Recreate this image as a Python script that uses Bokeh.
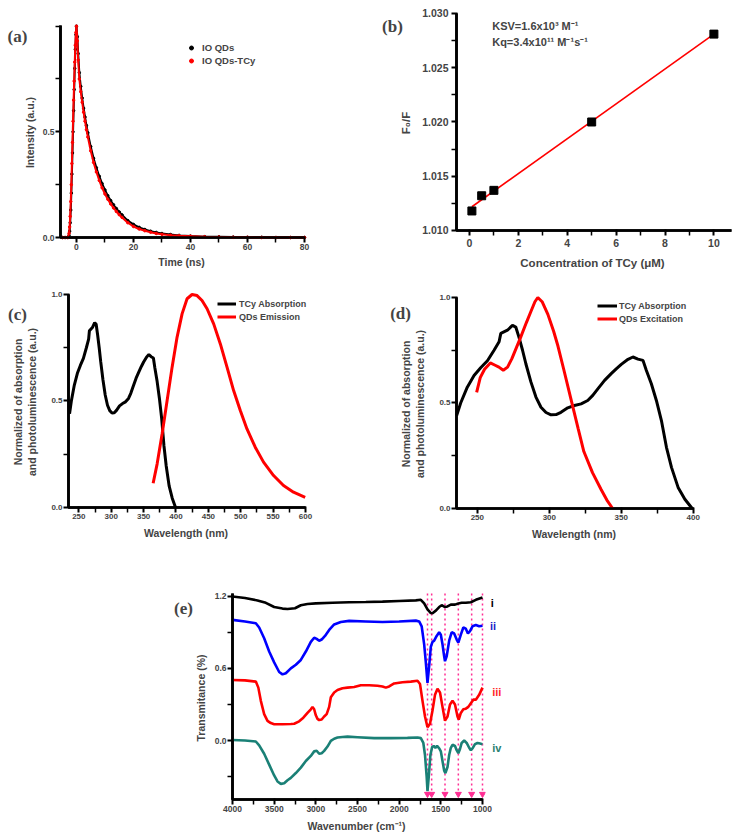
import numpy as np
from bokeh.plotting import figure
from bokeh.models import (Range1d, FixedTicker, NumeralTickFormatter, Label,
                          Legend, LegendItem, Arrow)
from bokeh.layouts import column, row
from bokeh.embed import file_html
from bokeh.resources import INLINE

# ---------------- (a) fluorescence decay ----------------
time_ns = [-5, -4, -3, -2.6, -2.4, -2.2, -2.0, -1.8, -1.6, -1.4, -1.2, -1.0, -0.8,
           -0.6, -0.4, -0.2, 0, 0.3, 0.6, 1, 1.5, 2, 2.5, 3, 3.5, 4, 5, 6, 7, 8, 9,
           10, 11, 12, 13, 14, 15, 16, 18, 20, 22, 24, 26, 28, 30, 33, 36, 40, 45,
           50, 55, 60, 65, 70, 75, 80]
io_qds = [0, 0, 0, 0.01, 0.03, 0.07, 0.13, 0.21, 0.30, 0.40, 0.50, 0.60, 0.70,
          0.80, 0.89, 0.96, 1.0, 0.95, 0.87, 0.78, 0.715, 0.66, 0.612, 0.57, 0.53,
          0.495, 0.43, 0.375, 0.33, 0.29, 0.255, 0.225, 0.198, 0.175, 0.155, 0.137,
          0.121, 0.107, 0.080, 0.062, 0.048, 0.038, 0.030, 0.024, 0.019, 0.014,
          0.010, 0.007, 0.004, 0.003, 0.002, 0.001, 0.001, 0, 0, 0]
io_qds_tcy = [0, 0, 0, 0.02, 0.05, 0.10, 0.17, 0.25, 0.35, 0.45, 0.55, 0.65, 0.74,
              0.83, 0.91, 0.97, 1.0, 0.93, 0.84, 0.75, 0.69, 0.64, 0.593, 0.55,
              0.51, 0.475, 0.41, 0.355, 0.31, 0.27, 0.235, 0.206, 0.181, 0.159,
              0.14, 0.123, 0.108, 0.095, 0.070, 0.052, 0.040, 0.032, 0.025, 0.019,
              0.015, 0.011, 0.008, 0.006, 0.003, 0.002, 0.001, 0.001, 0, 0, 0, 0]

# ---------------- (b) Stern-Volmer ----------------
conc_tcy = [0.1, 0.5, 1, 5, 10]
f0_over_f = [1.0118, 1.0132, 1.0137, 1.0200, 1.0281]

# ---------------- (c)/(d) spectra ----------------
tcy_wl = [235.6, 238.4, 243, 247.7, 252.3, 257, 261.6, 265.1, 266.3, 270.9, 274.4,
          276.7, 279, 281.4, 283.7, 287.2, 290.7, 294.2, 297.7, 301.2, 304.7,
          308.1, 312.8, 317.4, 322.1, 326.7, 330.2, 333.7, 338.4, 343, 346.5, 350,
          354.7, 358.1, 361.6, 365.1, 367.4, 370.9, 374.4, 377.9, 381.4, 384.9,
          389.5, 394.2, 399.3]
tcy_abs = [0.44, 0.50, 0.575, 0.63, 0.667, 0.70, 0.75, 0.79, 0.83, 0.845, 0.868,
           0.86, 0.81, 0.75, 0.686, 0.60, 0.528, 0.48, 0.455, 0.444, 0.445, 0.456,
           0.477, 0.488, 0.496, 0.512, 0.536, 0.567, 0.607, 0.639, 0.662, 0.683,
           0.707, 0.718, 0.708, 0.702, 0.655, 0.591, 0.512, 0.417, 0.29, 0.195,
           0.10, 0.044, 0.0]
em_wl = [364.7, 370.9, 378.6, 386.3, 394, 401.7, 409.4, 417.1, 424.8, 432.5, 440.2,
         448, 458.2, 468.5, 478.8, 489, 499.3, 509.6, 522.4, 535.2, 550.7, 566,
         581.5, 599.5]
qds_emission = [0.114, 0.205, 0.346, 0.502, 0.659, 0.80, 0.909, 0.98, 1.0, 0.995,
                0.972, 0.933, 0.862, 0.768, 0.659, 0.549, 0.455, 0.369, 0.283,
                0.213, 0.150, 0.103, 0.072, 0.048]
ex_wl = [249.5, 252, 255, 259, 262, 265, 268, 271, 274, 277, 280, 284, 287, 290,
         292, 295, 299, 303, 306, 310, 315, 320, 324, 330, 336, 340, 344]
qds_excitation = [0.55, 0.62, 0.66, 0.69, 0.68, 0.67, 0.655, 0.67, 0.71, 0.76,
                  0.81, 0.88, 0.93, 0.98, 1.0, 0.98, 0.92, 0.84, 0.77, 0.66, 0.52,
                  0.38, 0.27, 0.17, 0.09, 0.04, 0.0]

# ---------------- (e) FTIR ----------------
wn_i = [4000, 3850, 3700, 3600, 3500, 3400, 3340, 3250, 3180, 3100, 3000, 2800,
        2600, 2400, 2200, 2000, 1800, 1740, 1700, 1660, 1620, 1600, 1560, 1520,
        1490, 1450, 1420, 1380, 1330, 1290, 1250, 1200, 1140, 1080, 1000]
ftir_i = [1.197, 1.185, 1.165, 1.145, 1.11, 1.097, 1.093, 1.10, 1.125, 1.135, 1.14,
          1.145, 1.15, 1.152, 1.155, 1.16, 1.165, 1.17, 1.14, 1.09, 1.06, 1.058,
          1.08, 1.11, 1.125, 1.11, 1.115, 1.13, 1.13, 1.14, 1.145, 1.145, 1.15,
          1.17, 1.19]
wn_ii = [4000, 3850, 3720, 3680, 3620, 3560, 3500, 3440, 3400, 3360, 3300, 3240,
         3180, 3120, 3060, 3020, 2990, 2960, 2930, 2890, 2840, 2780, 2700, 2600,
         2400, 2200, 2000, 1800, 1760, 1730, 1700, 1680, 1660, 1640, 1620, 1600,
         1580, 1550, 1520, 1500, 1480, 1460, 1450, 1430, 1400, 1370, 1340, 1310,
         1290, 1260, 1230, 1200, 1175, 1150, 1120, 1080, 1040, 1000]
ftir_ii = [1.003, 0.99, 0.975, 0.94, 0.85, 0.74, 0.65, 0.57, 0.55, 0.56, 0.60, 0.63,
           0.67, 0.74, 0.82, 0.855, 0.845, 0.83, 0.84, 0.87, 0.92, 0.965, 0.985,
           0.995, 0.99, 0.985, 0.99, 0.997, 0.99, 0.95, 0.80, 0.65, 0.48, 0.62,
           0.78, 0.82, 0.83, 0.87, 0.90, 0.88, 0.80, 0.70, 0.66, 0.70, 0.83, 0.90,
           0.89, 0.84, 0.815, 0.88, 0.94, 0.93, 0.89, 0.91, 0.95, 0.96, 0.95, 0.955]
wn_iii = [4000, 3850, 3720, 3690, 3660, 3620, 3580, 3540, 3500, 3400, 3300, 3260,
          3200, 3150, 3100, 3060, 3040, 3020, 3000, 2980, 2960, 2930, 2900, 2870,
          2840, 2820, 2780, 2740, 2680, 2620, 2540, 2460, 2360, 2260, 2200, 2160,
          2120, 2060, 1960, 1860, 1780, 1750, 1720, 1690, 1660, 1630, 1600, 1570,
          1540, 1510, 1480, 1450, 1420, 1390, 1360, 1330, 1300, 1285, 1260, 1230,
          1200, 1170, 1140, 1110, 1080, 1040, 1000]
ftir_iii = [0.503, 0.50, 0.49, 0.44, 0.33, 0.22, 0.164, 0.145, 0.136, 0.135, 0.138,
            0.14, 0.16, 0.19, 0.23, 0.26, 0.28, 0.26, 0.21, 0.18, 0.17, 0.175, 0.20,
            0.22, 0.28, 0.36, 0.40, 0.42, 0.435, 0.44, 0.445, 0.46, 0.46, 0.456,
            0.45, 0.44, 0.45, 0.475, 0.485, 0.49, 0.497, 0.47, 0.33, 0.20, 0.11,
            0.14, 0.25, 0.38, 0.43, 0.40, 0.28, 0.165, 0.20, 0.30, 0.33, 0.30, 0.20,
            0.175, 0.23, 0.26, 0.265, 0.28, 0.31, 0.34, 0.34, 0.38, 0.44]
wn_iv = [4000, 3850, 3720, 3680, 3620, 3560, 3500, 3460, 3420, 3380, 3340, 3300,
         3240, 3180, 3120, 3060, 3020, 2990, 2960, 2930, 2900, 2860, 2820, 2780,
         2740, 2680, 2620, 2500, 2300, 2100, 1900, 1780, 1740, 1710, 1690, 1670,
         1660, 1645, 1625, 1605, 1585, 1565, 1545, 1520, 1500, 1480, 1460, 1445,
         1420, 1400, 1380, 1360, 1330, 1310, 1290, 1270, 1250, 1220, 1190, 1160,
         1140, 1120, 1090, 1060, 1030, 1000]
ftir_iv = [0.005, 0.0, -0.008, -0.04, -0.11, -0.20, -0.29, -0.34, -0.36, -0.355,
           -0.33, -0.31, -0.27, -0.225, -0.17, -0.128, -0.09, -0.085, -0.11, -0.105,
           -0.086, -0.05, -0.003, 0.015, 0.025, 0.03, 0.033, 0.028, 0.02, 0.02,
           0.022, 0.025, 0.02, -0.02, -0.12, -0.30, -0.42, -0.30, -0.12, -0.055,
           -0.045, -0.06, -0.045, -0.064, -0.09, -0.17, -0.25, -0.27, -0.22, -0.12,
           -0.06, -0.035, -0.045, -0.08, -0.105, -0.07, -0.02, 0.0, -0.02, -0.06,
           -0.08, -0.065, -0.03, -0.02, -0.025, -0.03]
ftir_marks = [1660, 1610, 1450, 1290, 1130, 1000]
ftir_names = ["i", "ii", "iii", "iv"]

FONT = "Liberation Sans"
TEAL = "#1a8076"
MAGENTA = "#ff2e93"


def style(p, tick_size, label_size, x_std=(1, 3), y_std=(1, 4)):
    p.outline_line_color = None
    p.grid.visible = False
    for ax, (tick_sd, label_sd) in [(p.xaxis[0], x_std), (p.yaxis[0], y_std)]:
        ax.axis_line_color = None
        ax.major_tick_line_width = 2
        ax.minor_tick_line_width = 1.5
        # rules sit 5px inside the frame; ticks run from frame edge to rule
        ax.major_tick_out = 0
        ax.major_tick_in = 6
        ax.minor_tick_out = 0
        ax.minor_tick_in = 5
        ax.major_label_text_font = FONT
        ax.major_label_text_font_style = "bold"
        ax.major_label_text_font_size = tick_size
        ax.axis_label_text_font = FONT
        ax.axis_label_text_font_style = "bold"
        ax.axis_label_text_font_size = label_size
        ax.major_label_standoff = tick_sd
        ax.axis_label_standoff = label_sd


def axis_rules(p, x_left, x_right, y_base, y_top):
    # left + bottom axis rules, strictly inside the frame, drawn through the
    # plot's own scales (line glyph plus plain arrow annotations)
    n = 30
    xs = [x_left] * n + list(np.linspace(x_left, x_right, n))
    ys = list(np.linspace(y_top, y_base, n)) + [y_base] * n
    p.line(xs, ys, line_color="black", line_width=2.6)
    for xs0, ys0, xs1, ys1 in [(x_left, y_top, x_left, y_base),
                               (x_left, y_base, x_right, y_base)]:
        p.add_layout(Arrow(x_start=xs0, y_start=ys0, x_end=xs1, y_end=ys1,
                           start=None, end=None, line_color="black",
                           line_width=2.6))


def panel_label(p, x, y, text, side):
    p.add_layout(Label(x=x, y=y, text=text, text_font="Liberation Serif",
                       text_font_style="bold", text_font_size="17px",
                       text_align="center", text_baseline="middle"), side)


def make_legend(items, loc, gw, gh, standoff, fsize):
    return Legend(items=items, location=loc, orientation="vertical",
                  border_line_color=None, background_fill_alpha=0,
                  padding=0, spacing=0, margin=0, glyph_width=gw,
                  glyph_height=gh, label_height=gh, label_standoff=standoff,
                  label_text_font=FONT, label_text_font_style="bold",
                  label_text_font_size=fsize)


common = dict(output_backend="svg", toolbar_location=None, title_location=None)

# ---------- panel (a) ----------
pa = figure(width=370, height=280, x_range=Range1d(-7.354, 81.053),
            y_range=Range1d(-0.02365, 1.01719),
            min_border_left=55, min_border_right=63, min_border_top=22,
            min_border_bottom=38, **common)
axis_rules(pa, -5.6, 80, 0, 1.003)
pa.line(time_ns, io_qds, color="black", line_width=2)
sa_k = pa.scatter(time_ns, io_qds, color="black", size=2.5)
pa.line(time_ns, io_qds_tcy, color="red", line_width=2)
sa_r = pa.scatter(time_ns, io_qds_tcy, color="red", size=2.5)
style(pa, "8.5px", "10.5px", x_std=(1, 3), y_std=(1, 4))
pa.xaxis.axis_label = "Time (ns)"
pa.yaxis.axis_label = "Intensity (a.u.)"
pa.xaxis.ticker = FixedTicker(ticks=[0, 20, 40, 60, 80], minor_ticks=[10, 30, 50, 70])
pa.yaxis.ticker = FixedTicker(ticks=[0, 0.5], minor_ticks=[0.25, 0.75, 1.0])
pa.yaxis.formatter = NumeralTickFormatter(format="0.0")
pa.add_layout(make_legend([LegendItem(label="IO QDs", renderers=[sa_k]),
                           LegendItem(label="IO QDs-TCy", renderers=[sa_r])],
                          (131, 175), 10, 13, 6, "9.5px"))
panel_label(pa, -20.7, 0.951, "(a)", "right")

# ---------- panel (b) ----------
pb = figure(width=364, height=280, x_range=Range1d(-0.7346, 10.802),
            y_range=Range1d(1.009539, 1.030276),
            min_border_left=81, min_border_right=1, min_border_top=10,
            min_border_bottom=45, **common)
axis_rules(pb, -0.53, 10.72, 1.010, 1.030)
coef = np.polyfit(conc_tcy, f0_over_f, 1)
fit_x = [min(conc_tcy), max(conc_tcy)]
fit_y = [coef[0] * v + coef[1] for v in fit_x]
pb.line(fit_x, fit_y, color="red", line_width=1.6)
pb.scatter(conc_tcy, f0_over_f, marker="square", size=8, color="black")
style(pb, "10.5px", "11.5px", x_std=(3, 7), y_std=(3, 7))
pb.xaxis.axis_label = "Concentration of TCy (μM)"
pb.yaxis.axis_label = "F₀/F"
pb.xaxis.ticker = FixedTicker(ticks=[0, 2, 4, 6, 8, 10], minor_ticks=[1, 3, 5, 7, 9])
pb.yaxis.ticker = FixedTicker(ticks=[1.010, 1.015, 1.020, 1.025, 1.030],
                              minor_ticks=[1.0125, 1.0175, 1.0225, 1.0275])
pb.yaxis.formatter = NumeralTickFormatter(format="0.000")
for yy, txt in [(1.02889, "KSV=1.6x10³ M⁻¹"), (1.02736, "Kq=3.4x10¹¹ M⁻¹s⁻¹")]:
    pb.add_layout(Label(x=0.93, y=yy, text=txt, text_font=FONT,
                        text_font_style="bold", text_font_size="11px",
                        text_align="left", text_baseline="middle"))
panel_label(pb, -3.15, 1.0288, "(b)", "left")

# ---------- panel (c) ----------
pc = figure(width=370, height=310, x_range=Range1d(226.28, 604.63),
            y_range=Range1d(-0.02347, 1.01408),
            min_border_left=63, min_border_right=62, min_border_top=11,
            min_border_bottom=78, **common)
axis_rules(pc, 234, 600, 0, 1.0)
rc_k = pc.line(tcy_wl, tcy_abs, color="black", line_width=3)
rc_r = pc.line(em_wl, qds_emission, color="red", line_width=3)
style(pc, "8px", "10.5px", x_std=(1, 5), y_std=(1, 10))
pc.xaxis.axis_label = "Wavelength (nm)"
pc.yaxis.axis_label = "Normalized of absorption\nand photoluminescence (a.u.)"
pc.xaxis.ticker = FixedTicker(ticks=list(range(250, 601, 50)),
                              minor_ticks=list(range(275, 600, 50)))
pc.yaxis.ticker = FixedTicker(ticks=[0, 0.5, 1.0], minor_ticks=[0.25, 0.75])
pc.yaxis.formatter = NumeralTickFormatter(format="0.0")
pc.add_layout(make_legend([LegendItem(label="TCy Absorption", renderers=[rc_k]),
                           LegendItem(label="QDs Emission", renderers=[rc_r])],
                          (154, 189), 19, 13, 3, "9px"))
panel_label(pc, 155.2, 0.906, "(c)", "right")

# ---------- panel (d) ----------
pd = figure(width=364, height=310, x_range=Range1d(232.03, 402.28),
            y_range=Range1d(-0.0237, 1.01422),
            min_border_left=81, min_border_right=38, min_border_top=14,
            min_border_bottom=77, **common)
axis_rules(pd, 235.5, 400.2, 0, 1.0)
rd_k = pd.line(tcy_wl, tcy_abs, color="black", line_width=3)
rd_r = pd.line(ex_wl, qds_excitation, color="red", line_width=3)
style(pd, "8px", "10.5px", x_std=(1, 5), y_std=(1, 10))
pd.xaxis.axis_label = "Wavelength (nm)"
pd.yaxis.axis_label = "Normalized of absorption\nand photoluminescence (a.u.)"
pd.xaxis.ticker = FixedTicker(ticks=[250, 300, 350, 400], minor_ticks=[275, 325, 375])
pd.yaxis.ticker = FixedTicker(ticks=[0, 0.5, 1.0], minor_ticks=[0.25, 0.75])
pd.yaxis.formatter = NumeralTickFormatter(format="0.0")
pd.add_layout(make_legend([LegendItem(label="TCy Absorption", renderers=[rd_k]),
                           LegendItem(label="QDs Excitation", renderers=[rd_r])],
                          (146, 188), 20, 13, 2, "9px"))
panel_label(pd, 196.6, 0.924, "(d)", "right")

# ---------- panel (e) ----------
pe = figure(width=734, height=249, x_range=Range1d(4060, 964),
            y_range=Range1d(-0.5316, 1.2391),
            min_border_left=227, min_border_right=249, min_border_top=1,
            min_border_bottom=35, **common)
top_y = 1.2225
arrow_y = -0.445
axis_rules(pe, 4000, 1000, -0.49, 1.2225)
pe.segment(x0=ftir_marks, y0=[top_y] * len(ftir_marks), x1=ftir_marks,
           y1=[arrow_y] * len(ftir_marks), line_color=MAGENTA, line_width=1.5,
           line_dash="2 3")
pe.scatter(ftir_marks, [arrow_y] * len(ftir_marks), marker="inverted_triangle",
           size=6, color=MAGENTA)
for wn, vals, col in [(wn_i, ftir_i, "black"), (wn_ii, ftir_ii, "#0000ff"),
                      (wn_iii, ftir_iii, "#ff0000"), (wn_iv, ftir_iv, TEAL)]:
    pe.line(wn, vals, color=col, line_width=2.6)
style(pe, "8.5px", "10.5px", x_std=(1, 5), y_std=(1, 5))
pe.xaxis.axis_label = "Wavenumber (cm⁻¹)"
pe.yaxis.axis_label = "Transmitance (%)"
pe.xaxis.ticker = FixedTicker(ticks=list(range(1000, 4001, 500)),
                              minor_ticks=list(range(1250, 4000, 500)))
pe.yaxis.ticker = FixedTicker(ticks=[0.0, 0.6, 1.2], minor_ticks=[-0.3, 0.3, 0.9])
pe.yaxis.formatter = NumeralTickFormatter(format="0.0")
label_pos = [(884, 1.142), (873, 0.95), (828, 0.40), (828, -0.058)]
label_cols = ["black", "#2323c8", "#ff2a2a", "#2a8070"]
for (lx, ly), name, col in zip(label_pos, ftir_names, label_cols):
    pe.add_layout(Label(x=lx, y=ly, text=name, text_font=FONT,
                        text_font_style="bold", text_font_size="11px",
                        text_color=col, text_align="center",
                        text_baseline="middle"), "right")
panel_label(pe, 4588, 1.098, "(e)", "right")

layout = column(row(column(pa), column(pb)), row(column(pc), column(pd)), pe)
open("out.html", "w").write(file_html(layout, INLINE))
